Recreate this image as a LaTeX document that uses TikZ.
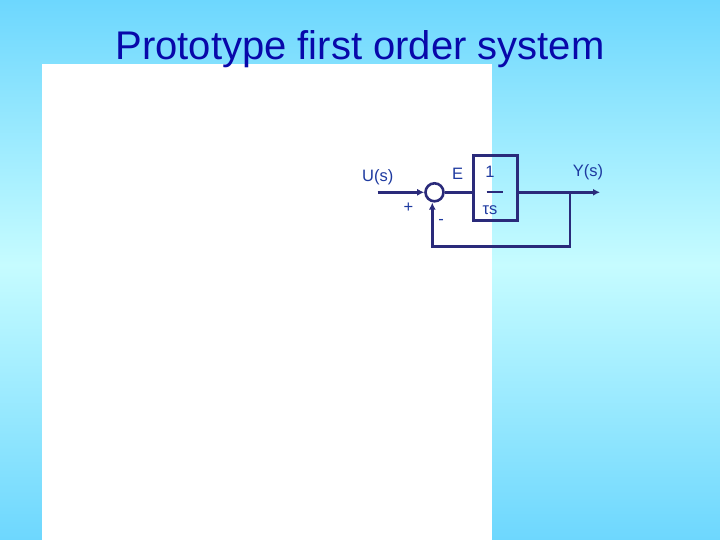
\documentclass[tikz,border=0pt]{standalone}
\usepackage{fontspec}
\setmainfont{Liberation Sans}
\usetikzlibrary{arrows.meta}
\definecolor{bgedge}{RGB}{109,215,254}
\definecolor{bgmid}{RGB}{198,252,255}
\definecolor{titleblue}{RGB}{8,8,170}
\definecolor{labelblue}{RGB}{30,58,160}
\definecolor{linenavy}{RGB}{42,42,122}

\begin{document}
\begin{tikzpicture}[x=1pt,y=-1pt,
  every node/.style={font=\fontsize{16.5}{19}\selectfont,text=labelblue,inner sep=0pt},
  conn/.style={draw=linenavy,line width=2.5pt},
  tip/.style={-{Latex[length=7pt,width=7pt]}},
  sumcirc/.style={circle,draw=linenavy,line width=2.6pt,minimum size=18pt},
  blockbox/.style={rectangle,draw=linenavy,line width=3pt,minimum width=44pt,minimum height=65.5pt}]
\useasboundingbox (0,0) rectangle (720,540);
\shade[top color=bgedge,bottom color=bgmid] (0,0) rectangle (720,265);
\shade[top color=bgmid,bottom color=bgedge] (0,265) rectangle (720,540);
\fill[white] (42,64) rectangle (492,540);
\node[anchor=base,font=\fontsize{40}{44}\selectfont,text=titleblue] (title) at (360,59.3) {Prototype first order system};
\node[sumcirc] (sum) at (434.5,192.3) {};
\node[blockbox] (plant) at (495.3,188) {};
\node (num) at (490,171.5) {1};
\node (den) at (490,209.7) {τs};
\draw[linenavy,line width=2.5pt] (486.7,192) -- (503.3,192);
\coordinate (in) at (377.7,192.3);
\coordinate (out) at (600,192.3);
\coordinate (br) at (570,192.3);
\coordinate (fb) at (432.3,246.7);
\node (u) at (377.7,177) {U(s)};
\node (y) at (588,172) {Y(s)};
\node (e) at (457.5,173.5) {E};
\node (plus) at (408.5,207.5) {+};
\node (minus) at (441,221.5) {-};
\draw[conn,tip] (in) -- (sum.west);
\draw[conn] (sum.east) -- (sum.east -| plant.west);
\draw[conn,tip] (plant.east |- out) -- (out);
\draw[conn,tip] (br) |- (fb) -- (fb |- sum.south);
\end{tikzpicture}
\end{document}
